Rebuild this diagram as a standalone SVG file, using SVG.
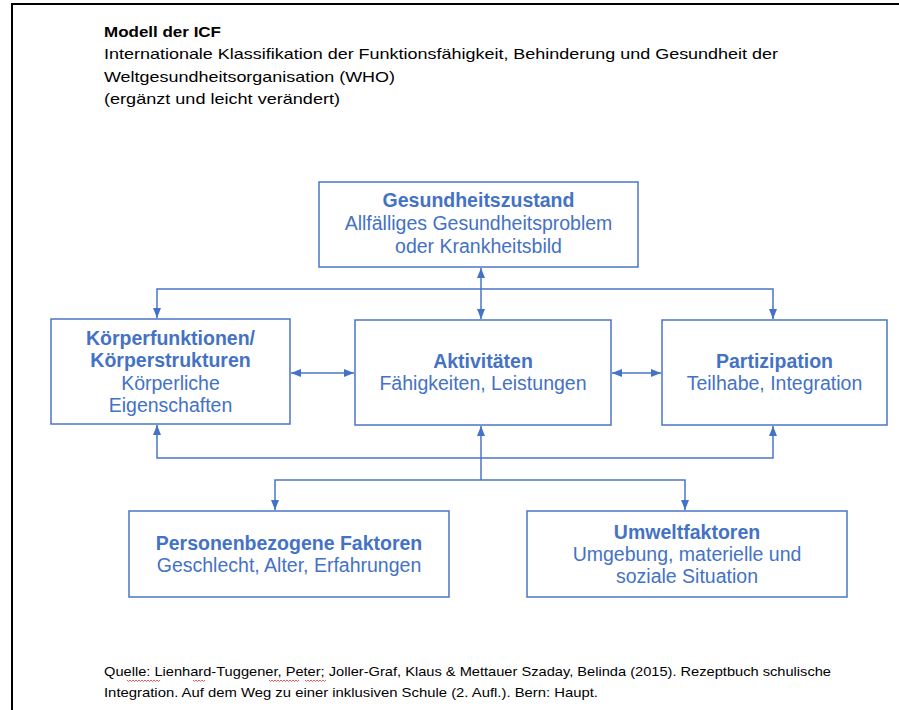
<svg xmlns="http://www.w3.org/2000/svg" width="899" height="710" viewBox="0 0 899 710">
<defs>
<style>
.box{fill:#ffffff;stroke:#4a76c6;stroke-width:1.5}
.t{font-family:"Liberation Sans",Arial,sans-serif;font-size:19.5px;fill:#4472c4;text-anchor:middle}
.b{font-weight:bold}
.con{fill:none;stroke:#4a76c6;stroke-width:1.5}
.hd{font-family:"Liberation Sans",Arial,sans-serif;font-size:15px;fill:#000000}
.ft{font-family:"Liberation Sans",Arial,sans-serif;font-size:13px;fill:#000000}
.sp{fill:none;stroke:#e03030;stroke-width:0.8}
</style>
<marker id="ar" viewBox="0 0 10 8" refX="10" refY="4" markerWidth="10" markerHeight="8" markerUnits="userSpaceOnUse" orient="auto-start-reverse">
<path d="M0,0 L10,4 L0,8 z" fill="#4472c4"/>
</marker>
</defs>
<rect width="899" height="710" fill="#ffffff"/>
<path d="M12,710 V4 H899" fill="none" stroke="#000" stroke-width="2"/>

<g id="header">
<text class="hd b" x="104" y="37" textLength="117" lengthAdjust="spacingAndGlyphs">Modell der ICF</text>
<text class="hd" x="104" y="59" textLength="674" lengthAdjust="spacingAndGlyphs">Internationale Klassifikation der Funktionsfähigkeit, Behinderung und Gesundheit der</text>
<text class="hd" x="104" y="82" textLength="291" lengthAdjust="spacingAndGlyphs">Weltgesundheitsorganisation (WHO)</text>
<text class="hd" x="104" y="104" textLength="236" lengthAdjust="spacingAndGlyphs">(ergänzt und leicht verändert)</text>
</g>

<g id="connectors">
<line class="con" x1="481" y1="268" x2="481" y2="319" marker-start="url(#ar)" marker-end="url(#ar)"/>
<path class="con" d="M157,318 V289 H773 V319" marker-start="url(#ar)" marker-end="url(#ar)"/>
<line class="con" x1="291" y1="373" x2="354" y2="373" marker-start="url(#ar)" marker-end="url(#ar)"/>
<line class="con" x1="612" y1="373" x2="661" y2="373" marker-start="url(#ar)" marker-end="url(#ar)"/>
<path class="con" d="M157,425 V458 H773 V426" marker-start="url(#ar)" marker-end="url(#ar)"/>
<path class="con" d="M481,480 V426" marker-end="url(#ar)"/>
<path class="con" d="M275,510 V480 H685 V510" marker-start="url(#ar)" marker-end="url(#ar)"/>
</g>

<g id="gesundheitszustand">
<rect class="box" x="319" y="182" width="319" height="85"/>
<text class="t b" x="478.5" y="207">Gesundheitszustand</text>
<text class="t" x="478.5" y="230">Allfälliges Gesundheitsproblem</text>
<text class="t" x="478.5" y="252.5">oder Krankheitsbild</text>
</g>

<g id="koerperfunktionen">
<rect class="box" x="51" y="319" width="239" height="105"/>
<text class="t b" x="170.5" y="344.5">Körperfunktionen/</text>
<text class="t b" x="170.5" y="367">Körperstrukturen</text>
<text class="t" x="170.5" y="389.5">Körperliche</text>
<text class="t" x="170.5" y="411.5">Eigenschaften</text>
</g>

<g id="aktivitaeten">
<rect class="box" x="355" y="320" width="256" height="105"/>
<text class="t b" x="483" y="367.5">Aktivitäten</text>
<text class="t" x="483" y="389.5">Fähigkeiten, Leistungen</text>
</g>

<g id="partizipation">
<rect class="box" x="662" y="320" width="225" height="105"/>
<text class="t b" x="774.5" y="367.5">Partizipation</text>
<text class="t" x="774.5" y="390">Teilhabe, Integration</text>
</g>

<g id="personenbezogene">
<rect class="box" x="129" y="511" width="320" height="86"/>
<text class="t b" x="289" y="550">Personenbezogene Faktoren</text>
<text class="t" x="289" y="572">Geschlecht, Alter, Erfahrungen</text>
</g>

<g id="umweltfaktoren">
<rect class="box" x="527" y="511" width="320" height="86"/>
<text class="t b" x="687" y="538.5">Umweltfaktoren</text>
<text class="t" x="687" y="560.5">Umgebung, materielle und</text>
<text class="t" x="687" y="583">soziale Situation</text>
</g>

<g id="footer">
<text class="ft" x="104" y="676" textLength="727" lengthAdjust="spacingAndGlyphs">Quelle: Lienhard-Tuggener, Peter; Joller-Graf, Klaus &amp; Mettauer Szaday, Belinda (2015). Rezeptbuch schulische</text>
<text class="ft" x="104" y="697" textLength="494" lengthAdjust="spacingAndGlyphs">Integration. Auf dem Weg zu einer inklusiven Schule (2. Aufl.). Bern: Haupt.</text>
<path class="sp" d="M127,680 l1.5,1.5 l1.5,-1.5 l1.5,1.5 l1.5,-1.5 l1.5,1.5 l1.5,-1.5 l1.5,1.5 l1.5,-1.5 l1.5,1.5 l1.5,-1.5 l1.5,1.5 l1.5,-1.5 l1.5,1.5 l1.5,-1.5 l1.5,1.5 l1.5,-1.5 l1.5,1.5 l1.5,-1.5 l1.5,1.5 l1.5,-1.5 l1.5,1.5 l1.5,-1.5"/>
<path class="sp" d="M193,680 l1.5,1.5 l1.5,-1.5 l1.5,1.5 l1.5,-1.5 l1.5,1.5 l1.5,-1.5 l1.5,1.5 l1.5,-1.5"/>
<path class="sp" d="M269,680 l1.5,1.5 l1.5,-1.5 l1.5,1.5 l1.5,-1.5 l1.5,1.5 l1.5,-1.5 l1.5,1.5 l1.5,-1.5 l1.5,1.5 l1.5,-1.5 l1.5,1.5 l1.5,-1.5 l1.5,1.5 l1.5,-1.5 l1.5,1.5 l1.5,-1.5 l1.5,1.5 l1.5,-1.5 l1.5,1.5 l1.5,-1.5"/>
<path class="sp" d="M305,680 l1.5,1.5 l1.5,-1.5 l1.5,1.5 l1.5,-1.5 l1.5,1.5 l1.5,-1.5 l1.5,1.5 l1.5,-1.5 l1.5,1.5 l1.5,-1.5 l1.5,1.5 l1.5,-1.5 l1.5,1.5 l1.5,-1.5"/>
</g>
</svg>
